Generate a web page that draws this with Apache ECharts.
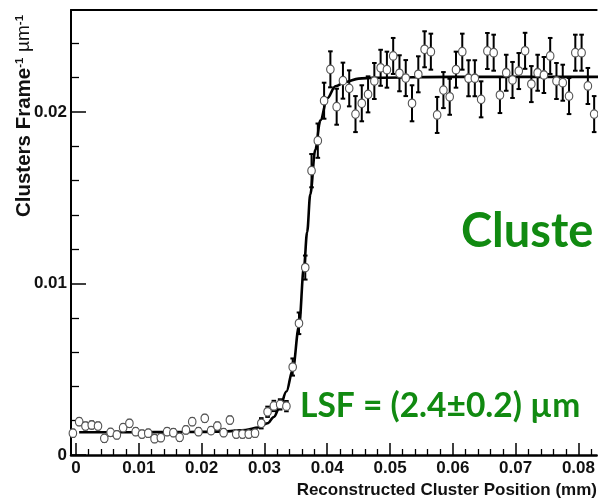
<!DOCTYPE html>
<html><head><meta charset="utf-8">
<script src="https://cdn.jsdelivr.net/npm/echarts@6/dist/echarts.min.js"></script>
<style>html,body{margin:0;padding:0;background:#fff}#c{width:598px;height:502px}</style>
</head><body><div id="c"></div>
<script>
// ---- data ----
const binX = [-0.0005,0.0005,0.0015,0.0025,0.0035,0.0045,0.0055,0.0065,0.0075,0.0085,
  0.0095,0.0105,0.0115,0.0125,0.0135,0.0145,0.0155,0.0165,0.0175,0.0185,
  0.0195,0.0205,0.0215,0.0225,0.0235,0.0245,0.0255,0.0265,0.0275,0.0285,
  0.0295,0.0305,0.0315,0.0325,0.0335,0.0345,0.0355,0.0365,0.0375,0.0385,
  0.0395,0.0405,0.0415,0.0425,0.0435,0.0445,0.0455,0.0465,0.0475,0.0485,
  0.0495,0.0505,0.0515,0.0525,0.0535,0.0545,0.0555,0.0565,0.0575,0.0585,
  0.0595,0.0605,0.0615,0.0625,0.0635,0.0645,0.0655,0.0665,0.0675,0.0685,
  0.0695,0.0705,0.0715,0.0725,0.0735,0.0745,0.0755,0.0765,0.0775,0.0785,
  0.0795,0.0805,0.0815,0.0825];
const clusterRate = [0.00127,0.00194,0.00169,0.00175,0.00169,0.00097,0.00132,0.00117,0.00159,0.00185,
  0.00136,0.00122,0.00127,0.00095,0.00101,0.00136,0.00130,0.00103,0.00146,0.00194,
  0.00136,0.00214,0.00142,0.00169,0.00130,0.00204,0.00122,0.00122,0.00122,0.00127,
  0.00185,0.00252,0.00286,0.00295,0.00285,0.00513,0.00768,0.01093,0.01658,0.01833,
  0.02066,0.02249,0.02031,0.02183,0.02138,0.01988,0.02051,0.02103,0.02181,0.02258,
  0.02247,0.02327,0.02226,0.02198,0.02051,0.02220,0.02366,0.02352,0.01983,0.02128,
  0.02089,0.02247,0.02352,0.02197,0.02197,0.02074,0.02356,0.02346,0.02099,0.02229,
  0.02187,0.02239,0.02357,0.02163,0.02229,0.02216,0.02327,0.02181,0.02171,0.02093,
  0.02346,0.02346,0.02152,0.01988];
const rateErr = [0.0002,0.0002,0.0002,0.0002,0.0002,0.0002,0.0002,0.0002,0.0002,0.0002,
  0.0002,0.0002,0.0002,0.0002,0.0002,0.0002,0.0002,0.0002,0.0002,0.0002,
  0.0002,0.0002,0.0002,0.0002,0.0002,0.0002,0.0002,0.0002,0.0002,0.0002,
  0.0003,0.0003,0.0003,0.0003,0.0003,0.0005,0.00063,0.0007,0.00097,0.001,
  0.00105,0.00105,0.00105,0.00105,0.00105,0.00105,0.00105,0.00105,0.00105,0.00105,
  0.00105,0.00105,0.00105,0.00105,0.00105,0.00105,0.00105,0.00105,0.00105,0.00105,
  0.00105,0.00105,0.00105,0.00105,0.00105,0.00105,0.00105,0.00105,0.00105,0.00105,
  0.00105,0.00105,0.00105,0.00105,0.00105,0.00105,0.00105,0.00105,0.00105,0.00105,
  0.00105,0.00105,0.00105,0.00105];
// fitted edge curve
const fitX = [0.0005,0.005,0.010,0.015,0.020,0.024,0.027,0.029,0.0305,0.0315,0.0325,0.0335,0.0345,0.0355,
  0.0363,0.0368,0.0373,0.0381,0.0389,0.0400,0.0413,0.0429,0.0450,0.0475,0.060,0.0835];
const fitY = [0.00133,0.00133,0.00133,0.00134,0.00135,0.00138,0.00146,0.00160,0.00185,0.00222,0.00285,0.00370,0.00495,0.00750,
  0.01100,0.01300,0.01520,0.01780,0.01950,0.02080,0.02150,0.02175,0.02195,0.02200,0.02205,0.02205];
// ticks
const xMajorTicks = [0,0.01,0.02,0.03,0.04,0.05,0.06,0.07,0.08];
const xTickLabels = ['0','0.01','0.02','0.03','0.04','0.05','0.06','0.07','0.08'];
const xMinorTicks = [0.002,0.004,0.006,0.008,0.012,0.014,0.016,0.018,0.022,0.024,0.026,0.028,
  0.032,0.034,0.036,0.038,0.042,0.044,0.046,0.048,0.052,0.054,0.056,0.058,
  0.062,0.064,0.066,0.068,0.072,0.074,0.076,0.078,0.082];
const yMajorTicks = [0,0.01,0.02];
const yTickLabels = ['0','0.01','0.02'];
const yMinorTicks = [0.002,0.004,0.006,0.008,0.012,0.014,0.016,0.018,0.022,0.024];

const X_MIN = -0.0008, X_MAX = 0.0829, Y_MIN = 0, Y_MAX = 0.02595;
const FONT = '"Liberation Sans", Arial, Helvetica, sans-serif';
const GREEN = '#118a11';

function lookup(ticks, labels, v) {
  for (let i = 0; i < ticks.length; i++) if (Math.abs(ticks[i] - v) < 1e-9) return labels[i];
  return '';
}

const chart = echarts.init(document.getElementById('c'), null, {renderer: 'canvas'});
const baseX = {type: 'value', min: X_MIN, max: X_MAX, splitLine: {show: false}, gridIndex: 0};
const baseY = {type: 'value', min: Y_MIN, max: Y_MAX, splitLine: {show: false}, gridIndex: 0};
chart.setOption({
  animation: false,
  backgroundColor: '#fff',
  grid: {left: 71, right: 0, top: 10, bottom: 47, containLabel: false},
  xAxis: [
    Object.assign({}, baseX, {
      position: 'bottom',
      axisLine: {show: true, onZero: false, lineStyle: {color: '#000', width: 2.5}},
      axisTick: {show: true, inside: true, length: 12, customValues: xMajorTicks, lineStyle: {color: '#000', width: 1.5}},
      axisLabel: {show: true, customValues: xMajorTicks, margin: 5, color: '#111', fontFamily: FONT,
        fontWeight: 'bold', fontSize: 17, formatter: v => lookup(xMajorTicks, xTickLabels, v)}
    }),
    Object.assign({}, baseX, {
      position: 'bottom',
      axisLine: {show: false, onZero: false},
      axisTick: {show: true, inside: true, length: 6, customValues: xMinorTicks, lineStyle: {color: '#000', width: 1.3}},
      axisLabel: {show: false}
    }),
    Object.assign({}, baseX, {
      position: 'top',
      axisLine: {show: true, onZero: false, lineStyle: {color: '#000', width: 2}},
      axisTick: {show: false}, axisLabel: {show: false}
    })
  ],
  yAxis: [
    Object.assign({}, baseY, {
      position: 'left',
      axisLine: {show: true, onZero: false, lineStyle: {color: '#000', width: 2}},
      axisTick: {show: true, inside: true, length: 15, customValues: yMajorTicks, lineStyle: {color: '#000', width: 1.5}},
      axisLabel: {show: true, customValues: yMajorTicks, margin: 4, color: '#111', fontFamily: FONT,
        fontWeight: 'bold', fontSize: 17, formatter: v => lookup(yMajorTicks, yTickLabels, v)}
    }),
    Object.assign({}, baseY, {
      position: 'left',
      axisLine: {show: false, onZero: false},
      axisTick: {show: true, inside: true, length: 8, customValues: yMinorTicks, lineStyle: {color: '#000', width: 1.3}},
      axisLabel: {show: false}
    })
  ],
  series: [
    {
      type: 'line', name: 'fit', data: fitX.map((x, i) => [x, fitY[i]]),
      smooth: 0.35, smoothMonotone: 'x', showSymbol: false, symbol: 'none',
      lineStyle: {color: '#000', width: 2.6}, z: 2, clip: true, silent: true
    },
    {
      type: 'custom', name: 'errors', z: 3, clip: true, silent: true,
      data: binX.map((x, i) => [x, clusterRate[i], rateErr[i]]),
      encode: {x: 0, y: 1},
      renderItem: (params, api) => {
        const x = api.value(0), y = api.value(1), e = api.value(2);
        const t = api.coord([x, y + e]), b = api.coord([x, y - e]);
        const w = 2.3, st = {stroke: '#000', lineWidth: 2};
        return {type: 'group', children: [
          {type: 'line', shape: {x1: t[0], y1: t[1], x2: b[0], y2: b[1]}, style: st},
          {type: 'line', shape: {x1: t[0] - w, y1: t[1], x2: t[0] + w, y2: t[1]}, style: st},
          {type: 'line', shape: {x1: b[0] - w, y1: b[1], x2: b[0] + w, y2: b[1]}, style: st}
        ]};
      }
    },
    {
      type: 'scatter', name: 'data', data: binX.map((x, i) => [x, clusterRate[i]]),
      symbol: 'circle', symbolSize: [7.5, 8.5], z: 4, clip: true,
      itemStyle: {color: '#fff', borderColor: '#555', borderWidth: 1.2, opacity: 1}
    }
  ],
  graphic: [
    {type: 'text', x: 24, y: 116, rotation: Math.PI / 2, z: 10,
      style: {text: '{a|Clusters Frame}{s|-1}{a| }{u|µm}{s|-1}', align: 'center', verticalAlign: 'middle',
        rich: {
          a: {fontFamily: FONT, fontWeight: 'bold', fontSize: 20.5, fill: '#111'},
          u: {fontFamily: FONT, fontWeight: 'normal', fontSize: 19, fill: '#111'},
          s: {fontFamily: FONT, fontWeight: 'bold', fontSize: 11.5, fill: '#111', verticalAlign: 'top', padding: [0, 0, 9, 0]}
        }}},
    {type: 'text', x: 597, y: 490, z: 10,
      style: {text: 'Reconstructed Cluster Position (mm)', fontFamily: FONT, fontWeight: 'bold', fontSize: 17,
        fill: '#111', align: 'right', verticalAlign: 'middle'}},
    {type: 'text', x: 461, y: 232, z: 10,
      style: {text: 'Cluste', fontFamily: 'Lato, "Open Sans", sans-serif', fontWeight: 'bold', fontSize: 47,
        fill: GREEN, align: 'left', verticalAlign: 'middle'}},
    {type: 'text', x: 300, y: 406, z: 10,
      style: {text: 'LSF = (2.4±0.2) µm', fontFamily: 'Lato, "Open Sans", sans-serif', fontWeight: 'bold', fontSize: 33.5,
        fill: GREEN, align: 'left', verticalAlign: 'middle'}}
  ]
});
</script>
</body></html>
